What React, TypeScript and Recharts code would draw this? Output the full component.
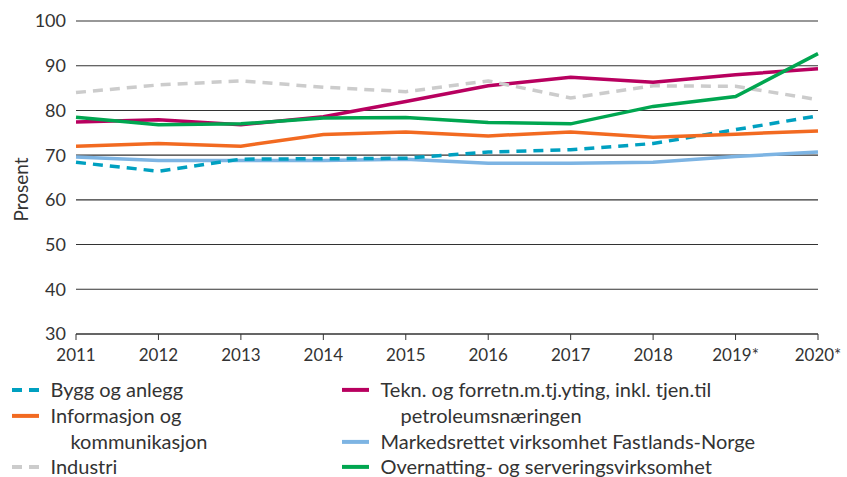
import React from 'react';
import { LineChart, Line, XAxis, YAxis, CartesianGrid } from 'recharts';

const years = ['2011', '2012', '2013', '2014', '2015', '2016', '2017', '2018', '2019*', '2020*'];
const bygg = [68.4, 66.4, 69.1, 69.2, 69.3, 70.7, 71.2, 72.6, 75.7, 78.8];
const informasjon = [72.0, 72.6, 72.0, 74.6, 75.2, 74.3, 75.2, 74.0, 74.7, 75.4];
const industri = [84.0, 85.7, 86.6, 85.2, 84.2, 86.6, 82.8, 85.5, 85.4, 82.4];
const tekn = [77.4, 77.9, 76.8, 78.6, 82.0, 85.5, 87.4, 86.3, 88.0, 89.3];
const markeds = [69.6, 68.8, 68.8, 68.8, 69.1, 68.2, 68.2, 68.4, 69.7, 70.7];
const overnatting = [78.5, 76.8, 77.0, 78.3, 78.4, 77.3, 77.0, 80.9, 83.1, 92.7];
const yTicks = [30, 40, 50, 60, 70, 80, 90, 100];

const data = years.map((year, i) => ({
  year,
  bygg: bygg[i],
  informasjon: informasjon[i],
  industri: industri[i],
  tekn: tekn[i],
  markeds: markeds[i],
  overnatting: overnatting[i],
}));

const C = {
  bygg: '#00a0c0',
  informasjon: '#f26a21',
  industri: '#cccccc',
  tekn: '#b8005f',
  markeds: '#7db4e3',
  overnatting: '#00a650',
};

const FONT = 'Lato, "Open Sans", sans-serif';
const TEXT = '#333333';

type LegendItem = { key: keyof typeof C; lines: string[]; dashed: boolean };
const legendLeft: LegendItem[] = [
  { key: 'bygg', lines: ['Bygg og anlegg'], dashed: true },
  { key: 'informasjon', lines: ['Informasjon og', 'kommunikasjon'], dashed: false },
  { key: 'industri', lines: ['Industri'], dashed: true },
];
const legendRight: LegendItem[] = [
  { key: 'tekn', lines: ['Tekn. og forretn.m.tj.yting, inkl. tjen.til', 'petroleumsnæringen'], dashed: false },
  { key: 'markeds', lines: ['Markedsrettet virksomhet Fastlands-Norge'], dashed: false },
  { key: 'overnatting', lines: ['Overnatting- og serveringsvirksomhet'], dashed: false },
];

const LINE_H = 25.8;

function LegendColumn({ items, left }: { items: LegendItem[]; left: number }) {
  return (
    <div style={{ position: 'absolute', left, top: 377, fontFamily: FONT, fontSize: 20, color: TEXT }}>
      {items.map((it) => (
        <div key={it.key} style={{ position: 'relative' }}>
          {it.lines.map((ln, j) => (
            <div key={j} style={{ height: LINE_H, lineHeight: LINE_H + 'px', whiteSpace: 'nowrap', position: 'relative' }}>
              {j === 0 && (
                <svg width={28} height={LINE_H} style={{ position: 'absolute', left: 0, top: 0 }}>
                  <line
                    x1={0}
                    x2={27}
                    y1={LINE_H / 2}
                    y2={LINE_H / 2}
                    stroke={C[it.key]}
                    strokeWidth={4}
                    strokeDasharray={it.dashed ? '10 7' : undefined}
                  />
                </svg>
              )}
              <span style={{ position: 'absolute', left: j === 0 ? 38.5 : 58.5, top: 0 }}>{ln}</span>
            </div>
          ))}
        </div>
      ))}
    </div>
  );
}

const YLabel = () => (
  <text
    x={20.5}
    y={189.5}
    transform="rotate(-90 20.5 189.5)"
    textAnchor="middle"
    dominantBaseline="central"
    fontFamily={FONT}
    fontSize={19}
    fill={TEXT}
  >
    Prosent
  </text>
);

export default function App() {
  const sw = 3.5;
  return (
    <div style={{ position: 'absolute', left: 0, top: 0, width: 847, height: 477, background: '#fff' }}>
      <LineChart width={847} height={372} data={data} margin={{ top: 21, right: 29, left: 0, bottom: 0 }}>
        <CartesianGrid vertical={false} stroke="#333" strokeWidth={1.1} />
        <XAxis
          dataKey="year"
          interval={0}
          tickSize={6}
          tickMargin={9}
          height={38}
          stroke="#333"
          tick={{ fill: TEXT, fontFamily: FONT, fontSize: 17 }}
        />
        <YAxis
          domain={[30, 100]}
          ticks={yTicks}
          width={76}
          axisLine={false}
          tickLine={false}
          tickMargin={4}
          tick={{ fill: TEXT, fontFamily: FONT, fontSize: 18 }}
          label={<YLabel />}
        />
        <Line dataKey="markeds" stroke={C.markeds} strokeWidth={sw} dot={false} isAnimationActive={false} />
        <Line dataKey="bygg" stroke={C.bygg} strokeWidth={sw} strokeDasharray="10 7" dot={false} isAnimationActive={false} />
        <Line dataKey="informasjon" stroke={C.informasjon} strokeWidth={sw} dot={false} isAnimationActive={false} />
        <Line dataKey="tekn" stroke={C.tekn} strokeWidth={sw} dot={false} isAnimationActive={false} />
        <Line dataKey="industri" stroke={C.industri} strokeWidth={sw} strokeDasharray="10 7" dot={false} isAnimationActive={false} />
        <Line dataKey="overnatting" stroke={C.overnatting} strokeWidth={sw} dot={false} isAnimationActive={false} />
      </LineChart>
      <LegendColumn items={legendLeft} left={12} />
      <LegendColumn items={legendRight} left={342} />
    </div>
  );
}
